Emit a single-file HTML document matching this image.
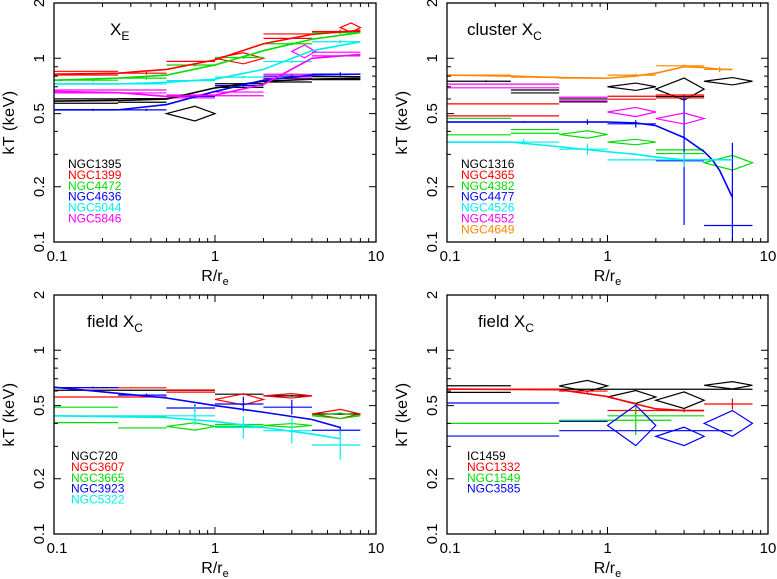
<!DOCTYPE html>
<html><head><meta charset="utf-8"><style>
body{margin:0;background:#fff}
svg{display:block;font-family:"Liberation Sans",sans-serif}
</style></head><body>
<svg id="chart" width="777" height="579" viewBox="0 0 777 579" xmlns="http://www.w3.org/2000/svg"></svg>
<script>
// tick data
const yMajorTicks = [0.1, 0.2, 0.5, 1, 2];
const yTickLabels = ["0.1", "0.2", "0.5", "1", "2"];
const xMajorTicks = [0.1, 1, 10];
const xTickLabels = ["0.1", "1", "10"];

// bins: [rIn, rOut, kT, errDex, type]  type: x=cross, d=diamond, b=band
// Panel 1: X_E
const p1Names = ["NGC1395","NGC1399","NGC4472","NGC4636","NGC5044","NGC5846"];
const p1Colors = ["#000","#f00","#0d0","#00f","#0ee","#f0f"];
const p1_1395 = [[0.1,0.25,0.585,0.012,"b"],[0.25,0.5,0.59,0.01,"b"],[0.5,1,0.5,0.04,"d"],[1,2,0.71,0.01,"b"],[2,4,0.76,0.01,"b"],[4,8,0.78,0.008,"b"]];
const p1_1399 = [[0.1,0.25,0.83,0.01,"b"],[0.25,0.5,0.83,0.008,"x"],[0.5,1,0.94,0.01,"b"],[1,2,1.0,0.03,"d"],[2,4,1.32,0.012,"b"],[4,8,1.4,0.01,"x"],[6,8,1.47,0.025,"d"]];
const p1_4472 = [[0.1,0.25,0.76,0.008,"x"],[0.25,0.5,0.78,0.008,"x"],[0.5,1,0.92,0.01,"x"],[1,2,1.01,0.008,"x"],[2,4,1.2,0.008,"x"],[4,8,1.38,0.008,"x"]];
const p1_4636 = [[0.1,0.25,0.524,0.006,"x"],[0.25,0.5,0.524,0.006,"x"],[0.5,1,0.62,0.006,"x"],[1,2,0.71,0.008,"x"],[2,4,0.8,0.008,"x"],[4,8,0.82,0.01,"x"]];
const p1_5044 = [[0.1,0.25,0.725,0.006,"x"],[0.25,0.5,0.725,0.006,"x"],[0.5,1,0.756,0.006,"x"],[1,2,0.79,0.006,"x"],[2,4,0.96,0.008,"x"],[4,8,1.23,0.01,"x"]];
const p1_5846 = [[0.1,0.25,0.66,0.008,"b"],[0.25,0.5,0.66,0.008,"b"],[0.5,1,0.62,0.008,"b"],[1,2,0.64,0.01,"b"],[2,4,0.8,0.01,"b"],[3,4.2,1.09,0.035,"d"],[4,8,1.055,0.01,"b"]];
const p1FitR = [0.1,0.25,0.5,1,2,4,8];
const p1Fit_1395 = [0.585,0.59,0.6,0.69,0.75,0.77,0.78];
const p1Fit_1399 = [0.82,0.83,0.87,0.98,1.2,1.35,1.42];
const p1Fit_4472 = [0.76,0.78,0.81,0.92,1.1,1.27,1.38];
const p1Fit_4636 = [0.524,0.524,0.56,0.66,0.76,0.81,0.82];
const p1Fit_5044 = [0.725,0.725,0.74,0.77,0.87,1.1,1.23];
const p1Fit_5846 = [0.66,0.65,0.62,0.63,0.72,1.0,1.05];

// Panel 2: cluster X_C
const p2Names = ["NGC1316","NGC4365","NGC4382","NGC4477","NGC4526","NGC4552","NGC4649"];
const p2Colors = ["#000","#f00","#0d0","#00f","#0ee","#f0f","#f80"];
const p2_1316 = [[0.1,0.25,0.75,0.005,"x"],[0.25,0.5,0.66,0.008,"b"],[0.5,1,0.59,0.008,"b"],[1,2,0.7,0.02,"d"],[2,4,0.68,0.06,"d"],[2,4,0.62,0.005,"x"],[4,8,0.75,0.02,"d"]];
const p2_4365 = [[0.1,0.5,0.565,0.003,"x"],[0.1,0.5,0.486,0.003,"x"],[1,2,0.61,0.008,"b"],[2,4,0.62,0.008,"b"]];
const p2_4382 = [[0.1,0.25,0.425,0.045,"b"],[0.25,0.5,0.4,0.01,"b"],[0.5,1,0.385,0.02,"d"],[1,2,0.35,0.015,"d"],[2,4,0.31,0.01,"b"],[4,8,0.27,0.04,"d"]];
const p2_4477 = [[0.1,0.5,0.45,0.005,"x"],[0.5,1,0.45,0.015,"x"],[1,2,0.44,0.02,"x"],[2,4,0.277,0.35,"x"],[4,8,0.123,0.45,"x"]];
const p2_4526 = [[0.1,0.5,0.35,0.015,"x"],[0.5,1,0.32,0.03,"x"],[1,2,0.28,0.003,"x"],[2,4,0.28,0.04,"x"]];
const p2_4552 = [[0.1,0.5,0.707,0.01,"b"],[0.5,1,0.6,0.01,"b"],[1,2,0.51,0.025,"d"],[2,4,0.47,0.03,"d"]];
const p2_4649 = [[0.1,0.25,0.81,0.005,"x"],[0.25,0.5,0.79,0.005,"x"],[0.5,1,0.78,0.005,"x"],[1,2,0.81,0.008,"x"],[2,4,0.91,0.008,"x"],[4,6,0.87,0.015,"x"]];
const p2FitR = [0.1,0.25,0.5,1,1.5,2,3,4,4.5,5,6];
const p2Fit_4477 = [0.45,0.45,0.45,0.45,0.445,0.43,0.37,0.31,0.28,0.245,0.175];
const p2Fit_4649 = [0.81,0.8,0.785,0.78,0.8,0.83,0.9,0.89,0.88,0.87,0.87];
const p2Fit_4526 = [0.35,0.35,0.33,0.31,0.3,0.29,0.28,0.28,0.28,0.28,0.28];

// Panel 3: field X_C
const p3Names = ["NGC720","NGC3607","NGC3665","NGC3923","NGC5322"];
const p3Colors = ["#000","#f00","#0d0","#00f","#0ee"];
const p3_720 = [[0.1,0.5,0.606,0.004,"x"],[0.5,1,0.606,0.004,"x"],[1,2,0.577,0.005,"x"],[2,4,0.565,0.005,"x"],[4,8,0.45,0.005,"x"]];
const p3_3607 = [[0.1,0.5,0.59,0.025,"b"],[0.5,1,0.6,0.006,"b"],[1,2,0.54,0.03,"d"],[2,4,0.565,0.012,"d"],[4,8,0.45,0.025,"d"]];
const p3_3665 = [[0.1,0.25,0.445,0.042,"b"],[0.25,0.5,0.405,0.03,"b"],[0.5,1,0.385,0.02,"d"],[1,2,0.39,0.005,"b"],[2,4,0.39,0.01,"d"],[4,8,0.44,0.015,"d"]];
const p3_3923 = [[0.1,0.25,0.627,0.005,"x"],[0.25,0.5,0.57,0.008,"x"],[0.5,1,0.485,0.02,"x"],[1,2,0.51,0.04,"x"],[2,4,0.49,0.04,"x"],[4,8,0.367,0.02,"x"]];
const p3_5322 = [[0.1,0.5,0.44,0.003,"x"],[0.5,1,0.44,0.05,"x"],[1,2,0.38,0.06,"x"],[2,4,0.365,0.07,"x"],[4,8,0.305,0.08,"x"]];
const p3FitR = [0.1,0.5,1,2,4,6];
const p3Fit_3923 = [0.63,0.55,0.5,0.46,0.42,0.38];
const p3Fit_5322 = [0.44,0.43,0.41,0.38,0.35,0.33];

// Panel 4: field X_C
const p4Names = ["IC1459","NGC1332","NGC1549","NGC3585"];
const p4Colors = ["#000","#f00","#0d0","#00f"];
const p4_1459 = [[0.1,0.25,0.615,0.018,"b"],[0.25,8,0.614,0.002,"x"],[0.5,1,0.64,0.03,"d"],[1,2,0.557,0.035,"d"],[2,4,0.535,0.045,"d"],[4,8,0.645,0.02,"d"]];
const p4_1332 = [[0.1,0.5,0.614,0.004,"x"],[0.5,1,0.6,0.01,"x"],[1,2,0.47,0.02,"x"],[2,4,0.47,0.01,"x"],[4,8,0.51,0.03,"x"]];
const p4_1549 = [[0.1,0.5,0.4,0.003,"x"],[0.5,2.5,0.416,0.08,"x"],[1,4,0.44,0.003,"x"]];
const p4_3585 = [[0.1,0.5,0.42,0.09,"b"],[0.5,1,0.41,0.003,"x"],[1,2,0.39,0.11,"d"],[2,4,0.34,0.05,"d"],[4,8,0.4,0.07,"d"],[0.5,6,0.365,0.001,"x"]];
const p4FitR = [0.1,0.5,1,1.5,2,3,4];
const p4Fit_1332 = [0.615,0.61,0.56,0.51,0.48,0.47,0.47];

const panels = [
  {title:"X", sub:"E", pre:"", x0:54, x1:376, yt:3, yb:242, names:p1Names, colors:p1Colors,
   bins:[p1_1395,p1_1399,p1_4472,p1_4636,p1_5044,p1_5846], fitR:p1FitR,
   fits:[[0,p1Fit_1395],[1,p1Fit_1399],[2,p1Fit_4472],[3,p1Fit_4636],[4,p1Fit_5044],[5,p1Fit_5846]], lx:68, ly:168, tx:110},
  {title:"X", sub:"C", pre:"cluster  ", x0:447, x1:768, yt:3, yb:242, names:p2Names, colors:p2Colors,
   bins:[p2_1316,p2_4365,p2_4382,p2_4477,p2_4526,p2_4552,p2_4649], fitR:p2FitR,
   fits:[[3,p2Fit_4477],[6,p2Fit_4649],[4,p2Fit_4526]], lx:461, ly:168, tx:467},
  {title:"X", sub:"C", pre:"field  ", x0:54, x1:376, yt:295, yb:534, names:p3Names, colors:p3Colors,
   bins:[p3_720,p3_3607,p3_3665,p3_3923,p3_5322], fitR:p3FitR,
   fits:[[3,p3Fit_3923],[4,p3Fit_5322]], lx:71, ly:460, tx:87},
  {title:"X", sub:"C", pre:"field  ", x0:447, x1:768, yt:295, yb:534, names:p4Names, colors:p4Colors,
   bins:[p4_1459,p4_1332,p4_1549,p4_3585], fitR:p4FitR,
   fits:[[1,p4Fit_1332]], lx:467, ly:460, tx:478}
];

const NS = "http://www.w3.org/2000/svg";
const svg = document.getElementById("chart");
function mk(tag, attrs, parent){const e=document.createElementNS(NS,tag);for(const k in attrs)e.setAttribute(k,attrs[k]);(parent||svg).appendChild(e);return e;}
const L = Math.log10;
const defs = mk("defs", {});

panels.forEach((p, pi) => {
  const g = mk("g", {});
  
  
  const X = r => p.x0 + (L(r) - L(0.1)) / 2 * (p.x1 - p.x0);
  const Y = t => p.yb - (L(t) - L(0.1)) / (L(2) - L(0.1)) * (p.yb - p.yt);
  const cp = mk("clipPath", {id:"clip" + pi}, defs);
  mk("rect", {x:p.x0, y:p.yt, width:p.x1-p.x0, height:p.yb-p.yt}, cp);
  const dg = mk("g", {fill:"none","stroke-width":1.2, "clip-path":"url(#clip" + pi + ")"}, g);
  
  
  p.bins.forEach((bins, si) => {
    const c = p.colors[si];
    bins.forEach(b => {
      const [r1, r2, t, e, ty] = b;
      const rc = (r1 + r2) / 2;
      const hi = t * Math.pow(10, e), lo = t * Math.pow(10, -e);
      let el;
      if (ty === "d") {
        el = mk("polygon", {points:`${X(r1)},${Y(t)} ${X(rc)},${Y(hi)} ${X(r2)},${Y(t)} ${X(rc)},${Y(lo)}`, stroke:c}, dg);
      } else if (ty === "b") {
        el = mk("path", {d:`M${X(r1)},${Y(hi)}H${X(r2)}M${X(r1)},${Y(lo)}H${X(r2)}`, stroke:c}, dg);
      } else {
        el = mk("path", {d:`M${X(r1)},${Y(t)}H${X(r2)}M${X(rc)},${Y(hi)}V${Y(lo)}`, stroke:c}, dg);
      }
      
      
    });
  });
  p.fits.forEach(f => {
    const [si, vals] = f;
    const pts = p.fitR.map((r, i) => `${X(r)},${Y(vals[i])}`).join(" ");
    const pl = mk("polyline", {points:pts, stroke:p.colors[si], "stroke-width":1.6, fill:"none"}, dg);
    
    
  });
  const fr = mk("rect", {x:p.x0, y:p.yt, width:p.x1-p.x0, height:p.yb-p.yt, fill:"none", stroke:"#000","stroke-width":1.3}, g);
  
  
  let d = "";
  for (let dec = 0.1; dec < 10; dec *= 10) {
    for (let m = 1; m < 10; m++) {
      const r = dec * m, x = X(r), len = m === 1 ? 7 : 4;
      d += `M${x},${p.yb}v${-len}M${x},${p.yt}v${len}`;
    }
  }
  [0.1,0.2,0.3,0.4,0.5,0.6,0.7,0.8,0.9,1,2].forEach(t => {
    const y = Y(t), len = yMajorTicks.includes(t) ? 7 : 4;
    d += `M${p.x0},${y}h${len}M${p.x1},${y}h${-len}`;
  });
  const tk = mk("path", {d, stroke:"#000","stroke-width":1}, g);
  
  
  xMajorTicks.forEach((r, i) => {
    const t = mk("text", {x:X(r) + (i===0?3:0), y:p.yb + 19, "font-size":15, "text-anchor":"middle"}, g);
    t.textContent = xTickLabels[i];
    
    
  });
  yMajorTicks.forEach((v, i) => {
    const y = Y(v);
    const t = mk("text", {x:0, y:0, "font-size":15, "text-anchor":"middle", transform:`translate(${p.x0-10},${y}) rotate(-90)`}, g);
    t.textContent = yTickLabels[i];
    
    
  });
  const xt = mk("text", {x:(p.x0+p.x1)/2, y:p.yb+39, "font-size":16, "text-anchor":"middle"}, g);
  xt.innerHTML = 'R/r<tspan font-size="11" dy="4">e</tspan>';
  
  
  const yt = mk("text", {x:0, y:0, "font-size":16, "letter-spacing":"0.5", "text-anchor":"middle", "xml:space":"preserve", transform:`translate(${p.x0-40},${(p.yt+p.yb)/2}) rotate(-90)`}, g);
  yt.textContent = "kT  (keV)";
  
  
  const tt = mk("text", {x:p.tx, y:p.yt+32, "font-size":17, "xml:space":"preserve"}, g);
  tt.innerHTML = p.pre + p.title + '<tspan font-size="12" dy="5">' + p.sub + '</tspan>';
  
  
  p.names.forEach((n, i) => {
    const t = mk("text", {x:p.lx, y:p.ly + i*10.9, "font-size":12, fill:p.colors[i]}, g);
    t.textContent = n;
    
    
  });
});
</script>
</body></html>
